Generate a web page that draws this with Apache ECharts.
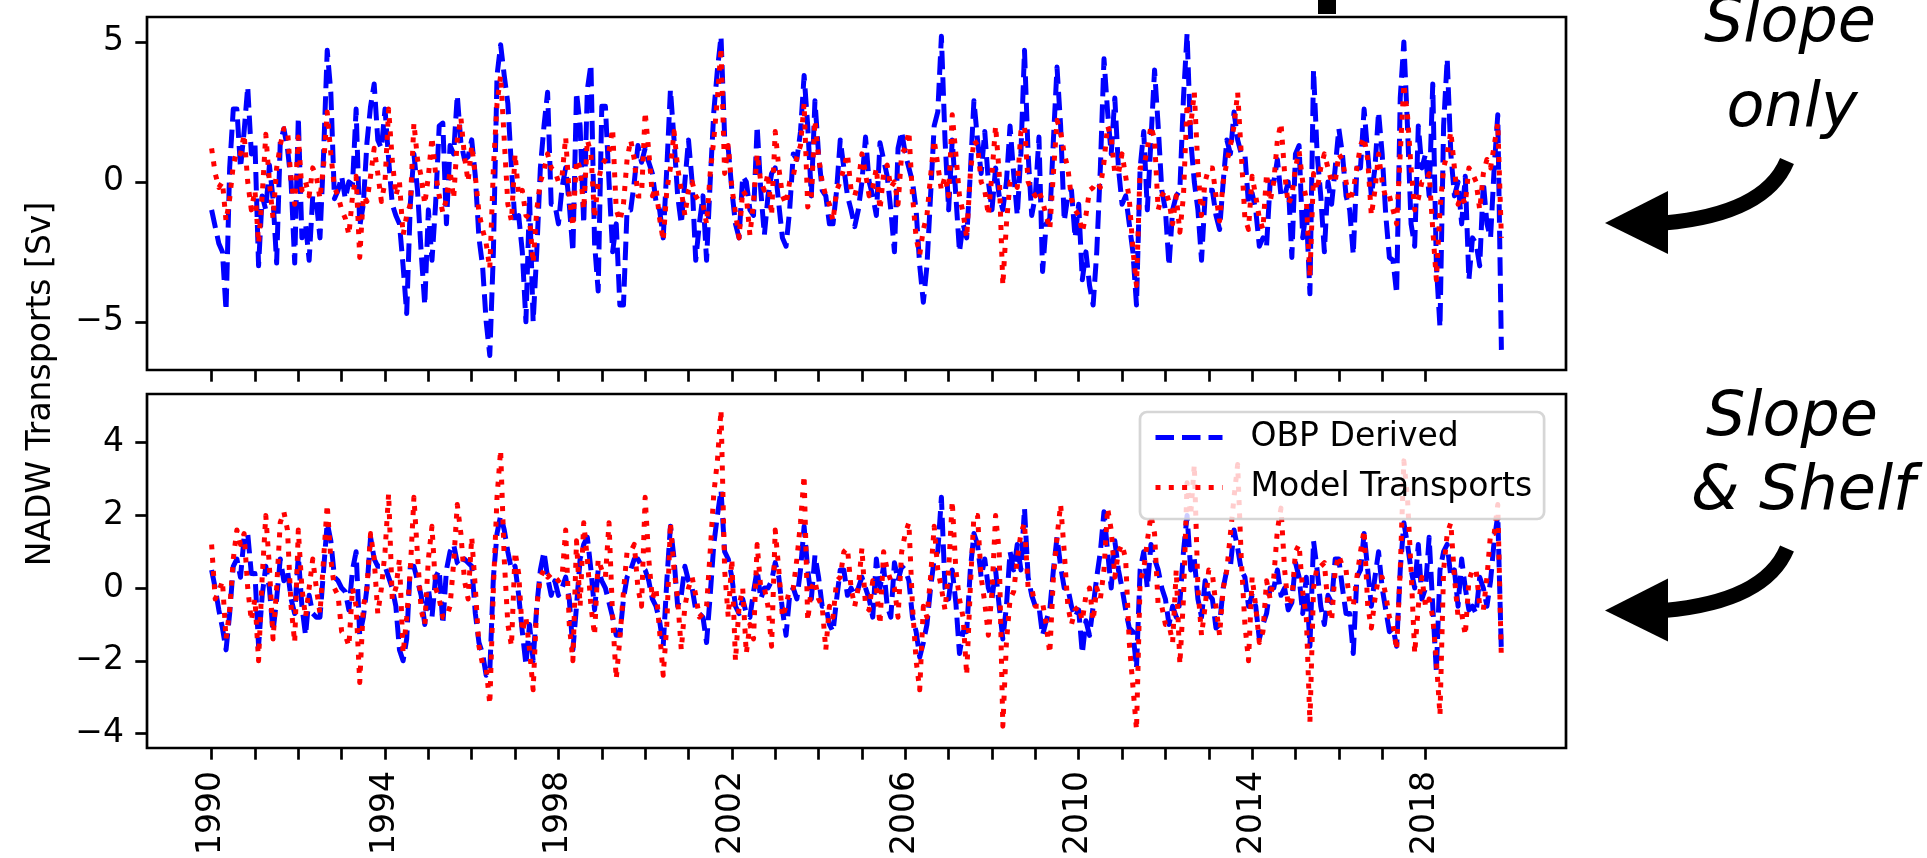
<!DOCTYPE html>
<html>
<head>
<meta charset="utf-8">
<script src="https://cdn.jsdelivr.net/npm/echarts@6/dist/echarts.min.js"></script>
<style>
html, body { margin: 0; padding: 0; background: #fff; }
#chart { width: 1927px; height: 858px; }
</style>
</head>
<body>
<div id="chart"></div>
<script>
// monthly values starting Jan 1990
var startYear = 1990;

// upper panel: slope only
var slopeObp = [
  -1.0, -1.6, -2.2, -2.5, -4.6, 0.5, 2.6, 2.6, 0.5, 1.8, 3.4, 1.0,
  1.4, -3.0, -0.5, -1.0, 0.6, -0.6, -2.9, 1.4, 1.9, 1.2, 0.0, -2.9,
  2.3, -2.0, -1.5, -2.8, -0.5, -0.7, -2.0, 1.0, 4.7, 3.2, -0.6, -0.3,
  0.2, -0.6, 0.0, -0.1, 2.6, -1.6, -0.8, 1.4, 2.7, 3.5, 1.5, 1.2,
  2.6, 0.8, -0.8, -1.2, -1.5, -3.0, -4.7, -0.8, 1.0, -0.3, -2.5, -4.4,
  -1.0, -2.8, -0.8, 2.0, 2.1, -1.5, 1.3, 1.0, 3.1, 1.4, 0.8, 0.9,
  1.5, 0.2, -2.0, -3.0, -5.0, -6.2, -2.5, 3.8, 4.9, 3.8, 2.8, 0.5,
  -1.5, -1.2, -2.5, -5.0, -0.5, -5.0, -2.5, 0.5, 2.0, 3.2, -0.8, -0.8,
  -1.5, -0.2, 0.5, -0.8, -2.5, 3.2, 2.0, -1.5, 3.3, 4.2, -2.2, -3.9,
  2.7, 2.7, 0.0, -2.5, -1.5, -4.4, -4.4, -1.0, -1.0, 0.0, 1.3, 0.7,
  1.2, 0.7, 0.3, -0.7, -1.0, -2.0, 0.5, 3.3, 1.5, -0.5, -1.5, 0.0,
  1.5, 0.0, -2.8, -1.5, -0.5, -2.8, 0.0, 2.5, 4.0, 5.2, 1.6, 1.2,
  -0.3, -1.5, -2.0, 0.2, 0.0, -1.0, -1.2, 2.0, -0.3, -1.9, -0.5, 0.3,
  0.5, -0.8, -2.0, -2.3, -1.0, 1.0, 0.8, 1.8, 3.8, 2.0, -0.5, 2.9,
  1.0, -0.3, -0.5, -1.5, -1.5, -0.3, 1.5, 0.5, -0.5, -1.0, -1.6, -1.0,
  0.0, 1.6, 0.0, -0.5, -1.2, 1.4, 0.8, 0.2, -1.0, -2.5, 1.2, 1.8,
  1.0, 0.5, 0.0, -1.0, -3.0, -4.3, -3.0, -0.5, 2.0, 2.5, 5.2, 1.5,
  -1.0, 1.5, -0.5, -2.5, -1.5, -2.0, 0.3, 2.9, 1.5, 0.3, 1.8, 0.0,
  -1.0, 0.5, -0.5, -1.0, 0.0, 2.0, 0.3, -1.2, 1.0, 4.7, 1.0, -1.2,
  -0.5, 1.6, -3.2, -1.5, -1.3, 1.5, 4.1, 2.0, -1.4, -0.5, -0.3, -2.0,
  -0.8, -3.5, -2.5, -3.7, -4.4, -2.5, 0.5, 4.4, 2.5, 1.0, 3.0, 0.5,
  -0.8, -0.5, -1.5, -2.5, -4.4, 0.5, 1.8, -1.0, 1.5, 4.0, 2.0, -0.3,
  -1.0, -3.0, -1.0, -0.5, -0.3, 3.0, 5.3, 1.5, 0.0, -1.0, -2.8, -0.5,
  -0.3, -0.3, -1.2, -1.7, 0.0, 1.5, 1.0, 2.5, 1.5, 1.0, 1.0, -0.8,
  -0.4, -1.0, -2.3, -2.0, -2.3, 0.0, 0.0, 0.8, -0.5, -0.5, 0.0, -2.7,
  1.0, 1.3, -2.0, -1.0, -4.0, 4.0, 1.0, -0.5, -2.5, 0.0, -0.8, 0.5,
  1.9, 1.0, -0.5, -1.0, -2.6, 0.5, 0.5, 2.6, 1.0, -0.5, 0.5, 2.5,
  1.0, -1.2, -2.7, -2.8, -4.0, 3.0, 5.0, 2.0, -1.5, -2.3, 2.0, 0.5,
  1.0, -0.5, 3.5, -3.0, -5.2, 2.0, 4.4, 1.0, -0.5, 0.0, -1.5, 0.2,
  -3.5, -2.0, -2.2, -3.0, 0.0, -1.5, -2.0, 0.5, 2.4, -6.0
];
var slopeModel = [
  1.2, 0.3, -0.2, 0.0, -1.4, -0.6, 0.6, 1.1, 1.0, 1.7, 0.0, -1.0,
  -0.3, -2.2, -0.5, 1.7, 0.0, -1.3, 0.5, 1.3, 1.9, 1.9, 0.0, -0.8,
  1.6, -0.3, 0.0, -0.5, 0.5, 0.2, -0.6, 0.6, 2.5, 1.0, -0.2, -0.5,
  -1.0, -1.3, -1.9, -0.5, 0.2, -2.7, -0.5, -0.7, 0.2, 1.2, 0.3, -0.7,
  0.0, 2.6, 0.8, -0.5, 0.0, -1.9, -1.2, -0.8, 2.1, 0.8, 0.2, -0.8,
  0.2, 1.6, 0.3, -0.5, -1.1, -0.6, 0.4, -0.6, 1.5, 2.3, 0.9, 0.0,
  1.3, 0.2, -1.1, -1.7, -2.2, -3.1, 0.5, 2.8, 3.8, 1.5, -0.8, -1.4,
  1.0, -0.5, -0.3, -1.2, -1.3, -2.9, -1.0, 0.0, 0.4, 1.0, 0.5, 0.4,
  0.0, 0.2, 1.6, -0.5, -1.6, 0.8, 0.5, -1.0, 1.5, 1.0, -1.3, 0.0,
  0.6, 0.8, 1.1, 1.9, -1.0, -1.4, -0.8, 0.8, 1.5, 0.8, -0.5, -0.5,
  2.5, 1.1, -0.5, -0.2, -1.3, -2.1, -0.3, 0.5, 1.8, 0.5, -0.3, -1.2,
  -0.3, 0.0, -0.5, -0.7, -0.8, -1.5, 0.3, 1.5, 3.0, 4.8, 0.3, 1.3,
  -0.2, -1.1, -2.0, -0.3, -0.5, -1.9, -0.7, 1.0, 0.0, -0.3, 0.3, -1.2,
  1.8, 0.5, -0.5, -0.8, 0.0, 0.2, 0.9, 1.3, 2.8, -0.9, -0.5, 2.2,
  0.9, 0.0, -0.5, -0.8, -1.4, -0.3, 0.0, 0.5, 1.0, -0.3, -0.5, 0.0,
  1.0, 0.3, -0.5, -0.2, 0.5, -1.0, 0.3, 0.6, -0.2, 0.0, -0.8, 1.0,
  1.2, 1.8, -0.5, -2.0, -2.6, -1.7, -1.2, 0.2, 1.5, 0.6, -0.3, 0.2,
  -0.5, 2.4, 1.0, -0.5, -1.1, -2.0, 0.3, 1.5, 1.3, 0.0, -0.3, -1.2,
  0.3, 2.0, 0.3, -3.7, -1.5, 0.0, 0.0, -0.2, 1.8, 2.0, 0.0, -0.3,
  -0.5, -0.3, -0.7, -1.2, -1.7, 0.3, 2.2, 1.8, 1.0, 0.5, -0.6, -1.0,
  -1.2, -1.8, -1.2, -0.3, -0.2, 0.0, -0.2, 0.7, 2.0, 1.6, 0.3, 0.3,
  1.0, 0.2, -0.6, -2.4, -3.7, 0.5, 0.5, 1.2, 2.0, 1.5, -1.0, -0.5,
  -0.3, -0.7, -1.5, -0.5, -1.8, -0.5, 2.8, 2.0, 3.2, 0.5, -1.2, 0.0,
  0.5, 0.5, -0.5, -1.4, 0.0, 0.7, 1.3, 2.0, 3.2, 1.0, -1.3, -1.7,
  0.2, -0.5, -1.3, -1.7, 0.3, -0.7, 0.0, 1.5, 2.1, 0.3, -0.8, -0.5,
  0.5, 1.1, 0.0, -0.6, -3.4, 0.3, -0.3, 0.5, 1.0, 0.5, 0.0, 0.0,
  1.0, 0.8, 0.0, -0.7, -0.3, 0.5, 1.3, 1.6, 0.8, -1.2, -0.3, 1.0,
  0.0, -0.6, -0.5, -1.0, -1.5, 1.0, 3.5, 2.4, 0.5, -1.0, -0.6, 0.0,
  0.0, 0.3, -1.7, -3.5, -1.0, 0.5, 1.0, 1.8, 0.5, -0.8, -0.5, -0.8,
  0.5, 0.3, 0.0, -1.0, 0.3, 0.8, 0.5, 1.3, 2.1, -2.0
];

// lower panel: slope & shelf
var shelfObp = [
  0.5, 0.0, -0.6, -1.1, -1.7, -0.7, 0.6, 0.8, 0.3, 1.4, 1.5, 0.4,
  0.4, -1.6, -0.2, 0.6, 0.0, -1.2, -0.3, 0.8, 0.2, 0.5, -0.3, -0.7,
  0.9, -0.5, -1.3, -0.2, -0.7, -0.8, -0.8, 0.5, 1.8, 1.3, 0.3, 0.2,
  0.0, -0.1, -0.6, 0.5, 1.0, -1.3, -0.8, 0.0, 1.4, 0.8, 0.6, 0.6,
  0.6, 0.3, 0.0, -0.5, -1.7, -2.0, -1.4, 0.6, 0.6, 0.2, -0.2, -1.0,
  0.0, -0.8, 0.3, 0.5, -1.0, 0.5, 1.0, 1.2, 0.7, 0.6, 0.8, 0.7,
  0.6, -0.7, -1.5, -1.8, -2.4, -2.3, 0.3, 1.5, 2.0, 1.6, 1.0, 0.5,
  0.6, -0.2, -1.2, -2.1, -1.0, -2.0, -0.5, 0.5, 1.0, 0.3, -0.2, 0.2,
  -0.2, 0.0, 0.3, -0.3, -1.7, -0.5, 0.8, 1.2, 1.4, 0.5, -0.6, 0.5,
  0.2, 0.0, -0.4, -0.8, -1.3, -1.3, -0.3, 0.3, 0.5, 0.8, 0.8, 0.6,
  0.5, 0.2, -0.3, -0.5, -0.9, -1.6, 0.2, 1.7, 0.8, -0.5, -0.2, 0.6,
  0.2, 0.0, -0.6, -0.7, -0.8, -1.5, -0.2, 1.2, 2.0, 2.7, 1.0, 0.8,
  0.3, -0.5, -0.7, -0.3, -0.7, -0.8, -0.1, 0.5, -0.3, 0.0, 0.0, 0.2,
  0.7, 0.3, -0.6, -1.3, -0.2, 0.0, -0.3, 0.5, 1.7, 0.5, -0.3, 0.9,
  0.3, -0.5, -0.5, -1.0, -1.2, -0.3, 0.5, 0.5, -0.2, 0.0, -0.2, 0.0,
  0.3, 0.0, -0.3, -0.8, 0.8, 0.0, 0.6, -0.5, -0.8, 0.7, 0.2, 0.6,
  0.5, 0.2, -0.8, -1.2, -1.9, -1.5, -1.0, 0.0, 0.8, 1.0, 2.5, 0.0,
  -0.3, 0.5, -0.4, -1.8, -1.2, -1.2, 0.5, 1.5, 1.2, 0.3, 0.8, 0.0,
  -0.3, 0.5, -0.5, -1.4, -0.5, 1.0, 0.5, 1.2, 0.5, 2.2, 0.3, -0.2,
  -0.5, -0.5, -1.3, -0.9, -0.6, 0.5, 1.4, 0.6, 0.0, 0.0, -0.5, -0.8,
  -0.6, -1.8, -0.9, -1.3, -0.5, 0.3, 1.0, 2.1, 1.0, 0.0, 1.3, 0.5,
  0.0, -0.6, -1.1, -1.2, -2.2, 0.5, 1.0, 0.0, 1.2, 0.8, 0.5, 0.0,
  -0.3, -1.0, -0.5, -0.8, -0.4, 1.0, 2.0, 0.5, 0.8, -0.3, -0.8, 0.2,
  -0.2, -0.3, -1.1, -1.0, 0.0, 0.5, 0.6, 1.6, 1.1, 0.5, 0.3, -0.5,
  -0.2, -0.5, -1.4, -1.0, -0.7, 0.0, 0.0, 0.5, -0.2, 0.0, -0.6, -0.4,
  0.7, 0.3, -0.7, 0.3, -1.6, 1.3, 0.5, -0.5, -1.0, -0.2, -0.4, 0.8,
  0.8, 0.0, -0.7, -0.7, -1.8, 0.3, 0.5, 1.5, 0.5, -0.5, 0.3, 1.0,
  0.0, -0.6, -1.2, -1.1, -1.6, 0.5, 1.8, 1.2, 0.5, 0.0, 1.2, -0.3,
  0.0, 1.4, -0.5, -2.3, 0.5, 1.0, 1.2, 0.3, 0.5, -0.5, 0.8, 0.0,
  -0.6, -0.5, -0.7, 0.3, 0.0, -0.5, 0.2, 1.3, 2.0, -1.8
];
var shelfModel = [
  1.2, -0.3, -0.1, 0.2, -1.4, -0.6, 0.8, 1.6, 1.2, 1.5, 0.0, -0.9,
  -0.3, -2.0, 0.3, 2.0, 0.6, -1.4, 0.0, 1.8, 2.1, 1.6, -0.5, -1.5,
  1.6, 0.0, -0.8, 0.0, 0.8, 0.0, -0.7, 0.8, 2.3, 0.8, 0.0, -0.2,
  -1.2, -1.3, -1.6, 0.0, -0.5, -2.6, -0.5, 0.0, 1.5, 0.8, -0.7, 0.0,
  1.0, 2.6, -0.3, 0.0, 0.8, -1.8, -0.8, 0.5, 2.5, 0.9, -0.6, -1.0,
  0.8, 1.7, 0.0, -0.3, -0.8, -0.8, -0.5, 0.7, 2.3, 1.5, 0.2, -0.3,
  1.4, 0.0, -1.6, -2.1, -2.2, -3.2, 0.0, 2.5, 3.8, 0.8, -1.0, -1.6,
  1.0, 0.4, -1.2, -0.8, -1.7, -2.8, -0.5, 0.3, 0.5, 0.3, 0.4, 0.3,
  0.2, 0.3, 1.6, -1.0, -2.0, 1.3, -0.5, 1.8, 0.8, -0.5, -1.3, 0.8,
  0.5, 0.3, 1.8, -0.8, -2.5, -1.4, -0.1, 1.0, 1.0, 1.2, 0.0, -0.5,
  2.5, 0.8, -0.3, 0.0, -1.2, -2.4, -1.0, 1.8, 0.5, -0.3, -1.7, -0.5,
  0.0, 0.3, -0.2, -0.8, -0.7, -0.5, 1.0, 2.6, 3.5, 4.9, 0.5, -0.8,
  0.8, -2.0, -0.5, 0.0, -1.8, -1.0, -1.4, 1.2, 0.0, 0.0, -0.5, -1.6,
  1.6, 0.5, -0.8, -0.5, 0.0, 0.0, 0.8, 1.8, 3.1, -0.9, 0.0, 0.2,
  -0.3, -0.5, -1.7, -0.5, -0.8, 0.2, 0.3, 1.0, 1.1, 0.0, -0.5, 0.0,
  1.1, -0.5, -0.6, 0.2, 0.0, -1.0, 1.0, 0.5, 0.2, 0.0, -0.8, 1.0,
  1.5, 1.8, -0.5, -2.0, -2.8, -0.5, -0.8, 0.3, 1.7, 0.5, 0.0, -0.6,
  0.5, 2.4, 0.5, -0.3, -0.8, -2.4, 0.0, 2.0, 2.0, 0.3, -0.4, -1.3,
  -0.1, 2.0, 1.0, -3.8, -1.5, -0.3, -0.1, 0.8, 1.5, 1.8, 0.0, 0.0,
  -0.5, -0.5, -0.4, -1.0, -1.8, 0.3, 1.4, 2.3, 1.0, -0.5, -1.0, -0.6,
  -0.5, -0.9, -0.2, 0.0, -0.9, 0.0, -0.3, 0.5, 2.2, 1.6, 0.3, 1.0,
  1.2, 0.8, -1.5, -2.7, -3.9, 0.2, 0.5, 1.3, 2.0, 1.5, -0.5, -0.5,
  -1.0, -1.0, -1.5, 0.5, -2.1, -0.3, 2.9, 2.0, 3.4, 0.0, -1.3, -0.5,
  0.5, 0.4, -0.5, -1.3, 0.0, 0.5, 1.5, 2.5, 3.4, 0.8, -1.0, -2.0,
  0.3, -0.5, -1.5, -1.2, 0.2, -0.3, 0.3, 1.6, 2.2, 0.5, -0.5, -0.3,
  1.0, 1.2, -0.1, -0.8, -3.7, 0.0, 0.6, 0.6, 0.7, -0.5, -0.9, 0.5,
  0.9, 0.6, 0.5, -0.4, -0.5, 0.3, 1.0, 1.6, -0.5, -1.1, -0.3, 0.3,
  0.3, -0.2, -0.8, -1.0, -1.7, 0.5, 3.5, 2.5, 0.5, -1.8, -0.5, 0.3,
  -0.5, -0.3, -0.8, -2.0, -3.5, 0.5, 1.5, 1.8, 0.3, -0.8, -0.7, -1.3,
  0.2, 0.5, 0.5, -0.5, -0.6, 0.3, 1.5, 1.5, 2.3, -2.0
];

var seriesNames = ['OBP Derived', 'Model Transports'];
var yearTicks = [1990, 1991, 1992, 1993, 1994, 1995, 1996, 1997, 1998, 1999,
  2000, 2001, 2002, 2003, 2004, 2005, 2006, 2007, 2008, 2009,
  2010, 2011, 2012, 2013, 2014, 2015, 2016, 2017, 2018];
var yearLabels = [1990, 1994, 1998, 2002, 2006, 2010, 2014, 2018];
var slopeTicks = [-5, 0, 5];
var shelfTicks = [-4, -2, 0, 2, 4];

var font = 'DejaVu Sans';
var fs = 33;
var blue = '#0000ff';
var red = '#ff0000';
var dashed = [18.5, 8];
var dotted = [5, 8.3];

function toPairs(vals) {
  return vals.map(function (v, i) { return [startYear + i / 12, v]; });
}
function minus(v) { return String(v).replace('-', '\u2212'); }

function xAxis(gi, withLabels) {
  return {
    type: 'value', gridIndex: gi, min: 1988.51, max: 2021.24,
    axisLine: { show: false, onZero: false },
    axisTick: { show: true, customValues: yearTicks, length: 11.7, lineStyle: { color: '#000', width: 2.7 } },
    axisLabel: withLabels ? {
      show: true, customValues: yearLabels, rotate: 90, margin: 23,
      fontSize: fs, fontFamily: font, color: '#000',
      formatter: function (v) { return String(v); }
    } : { show: false },
    splitLine: { show: false }
  };
}
function yAxis(gi, mn, mx, ticks) {
  return {
    type: 'value', gridIndex: gi, min: mn, max: mx,
    axisLine: { show: false, onZero: false },
    axisTick: { show: true, customValues: ticks, length: 11.7, lineStyle: { color: '#000', width: 2.7 } },
    axisLabel: {
      show: true, customValues: ticks, margin: 23,
      fontSize: fs, fontFamily: font, color: '#000',
      formatter: function (v) { return minus(v); }
    },
    splitLine: { show: false }
  };
}
function line(name, gi, vals, color, dash) {
  return {
    name: name, type: 'line', xAxisIndex: gi, yAxisIndex: gi,
    data: toPairs(vals), symbol: 'none', showSymbol: false,
    lineStyle: { color: color, width: 5, type: dash, cap: 'butt', join: 'round' },
    itemStyle: { color: color }
  };
}

function arrow(dy) {
  return [
    {
      type: 'bezierCurve',
      shape: { x1: 1787, y1: 161 + dy, x2: 1664, y2: 223 + dy, cpx1: 1765, cpy1: 214 + dy },
      style: { stroke: '#000', lineWidth: 15, fill: null }
    },
    {
      type: 'polygon',
      shape: { points: [[1605, 223 + dy], [1668, 191 + dy], [1668, 254 + dy]] },
      style: { fill: '#000' }
    }
  ];
}
function note(text, x, y) {
  return {
    type: 'text', x: x, y: y,
    style: { text: text, font: 'italic 62px "DejaVu Sans"', fill: '#000', align: 'center', verticalAlign: 'middle' }
  };
}

var chart = echarts.init(document.getElementById('chart'));
var option = {
  animation: false,
  backgroundColor: '#fff',
  grid: [
    { left: 147, top: 17, width: 1419, height: 353, show: true, borderColor: '#000', borderWidth: 2.7, backgroundColor: 'transparent', outerBoundsMode: 'none' },
    { left: 147, top: 394, width: 1419, height: 354, show: true, borderColor: '#000', borderWidth: 2.7, backgroundColor: 'transparent', outerBoundsMode: 'none' }
  ],
  xAxis: [xAxis(0, false), xAxis(1, true)],
  yAxis: [yAxis(0, -6.72, 5.89, slopeTicks), yAxis(1, -4.40, 5.34, shelfTicks)],
  legend: {
    data: seriesNames,
    orient: 'vertical', left: 1140, top: 412,
    padding: [9, 12, 15, 13], itemGap: 17, itemWidth: 67, itemHeight: 14,
    backgroundColor: 'rgba(255,255,255,0.8)', borderColor: 'rgba(204,204,204,0.8)',
    borderWidth: 2.7, borderRadius: 7,
    itemStyle: { opacity: 0 },
    lineStyle: { width: 5 },
    textStyle: { fontSize: fs, fontFamily: font, color: '#000', padding: [0, 0, 0, 23] },
    selectedMode: false
  },
  series: [
    line(seriesNames[0], 0, slopeObp, blue, dashed),
    line(seriesNames[1], 0, slopeModel, red, dotted),
    line(seriesNames[0], 1, shelfObp, blue, dashed),
    line(seriesNames[1], 1, shelfModel, red, dotted)
  ],
  graphic: [
    {
      type: 'text', x: 41.5, y: 384, rotation: Math.PI / 2,
      style: { text: 'NADW Transports [Sv]', font: fs + 'px "DejaVu Sans"', fill: '#000', align: 'center', verticalAlign: 'middle' }
    },
    { type: 'rect', shape: { x: 1318, y: 0, width: 18, height: 14 }, style: { fill: '#000' } },
    note('Slope', 1790, 25),
    note('only', 1792, 110),
    note('Slope', 1792, 419),
    note('& Shelf', 1803, 493)
  ].concat(arrow(0), arrow(387.5))
};
chart.setOption(option);
</script>
</body>
</html>
